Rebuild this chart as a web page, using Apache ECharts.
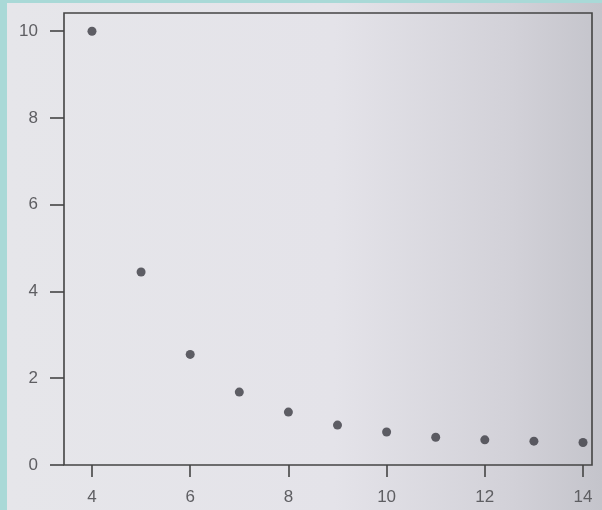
<!DOCTYPE html>
<html>
<head>
<meta charset="utf-8">
<script src="https://cdn.jsdelivr.net/npm/echarts@6/dist/echarts.min.js"></script>
<style>
html,body{margin:0;padding:0;background:#a9d9d7;}
#paper{position:absolute;left:7px;top:3px;width:595px;height:507px;
background:linear-gradient(90deg,#e6e6ea 0%,#e4e3e9 55%,#d2d1d8 85%,#c4c4cb 100%);}
#chart{position:absolute;left:0;top:0;width:602px;height:510px;}
</style>
</head>
<body>
<div id="paper"></div>
<div id="chart"></div>
<script>
const xValues = [4, 5, 6, 7, 8, 9, 10, 11, 12, 13, 14];
const yValues = [10, 4.45, 2.55, 1.68, 1.22, 0.92, 0.76, 0.64, 0.58, 0.55, 0.52];
const xTicks = [4, 6, 8, 10, 12, 14];
const yTicks = [0, 2, 4, 6, 8, 10];

const chart = echarts.init(document.getElementById('chart'));
const lab = {color:'#5e5e62', fontSize:17, fontFamily:'Liberation Sans, Arial, sans-serif'};
chart.setOption({
  backgroundColor:'transparent',
  animation:false,
  grid:{left:64, right:10, top:13, bottom:45, show:true, borderColor:'#444', borderWidth:1.6, backgroundColor:'transparent'},
  xAxis:{type:'value', min:3.43, max:14.183,
    axisLine:{show:false},
    splitLine:{show:false},
    axisTick:{show:true, inside:false, length:12, lineStyle:{color:'#444', width:1.6}, customValues:xTicks},
    axisLabel:Object.assign({customValues:xTicks, margin:24}, lab)},
  yAxis:{type:'value', min:0, max:10.42,
    axisLine:{show:false},
    splitLine:{show:false},
    axisTick:{show:true, inside:false, length:14, lineStyle:{color:'#444', width:1.6}, customValues:yTicks},
    axisLabel:Object.assign({customValues:yTicks, margin:26}, lab)},
  series:[{type:'scatter', symbol:'circle', symbolSize:9,
    itemStyle:{color:'#3b3b42'},
    data:xValues.map((x,i)=>[x, yValues[i]])}]
});
</script>
</body>
</html>
